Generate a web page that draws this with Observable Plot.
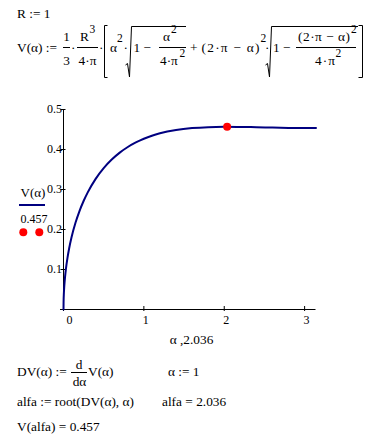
<!DOCTYPE html>
<html><head><meta charset="utf-8">
<script src="https://cdn.jsdelivr.net/npm/d3@7"></script>
<script src="https://cdn.jsdelivr.net/npm/@observablehq/plot@0.6"></script>
<style>
body{margin:0;background:#fff;}
#wrap{position:relative;width:379px;height:440px;overflow:hidden;background:#fff;}
#plot{position:absolute;left:0;top:95px;}
#over{position:absolute;left:0;top:0;pointer-events:none;}
#over text{font-family:"Liberation Serif","Times New Roman",serif;fill:#000;}
</style></head><body>
<div id="wrap"><div id="plot"></div><svg id="over" width="379" height="440"></svg></div>
<script>
// curve V(alpha)
const alpha = [0, 0.001, 0.005, 0.01, 0.02, 0.03, 0.05, 0.07, 0.1, 0.15, 0.2, 0.25, 0.3, 0.4, 0.5, 0.6, 0.7, 0.8, 0.9, 1.0, 1.1, 1.2, 1.4, 1.6, 1.8, 2.0, 2.2, 2.4, 2.6, 2.8, 3.0, 3.1416];
const V = [0, 0.0187, 0.0417, 0.0589, 0.0830, 0.1013, 0.1298, 0.1526, 0.1805, 0.2173, 0.2468, 0.2713, 0.2923, 0.3266, 0.3534, 0.3749, 0.3922, 0.4063, 0.4177, 0.4269, 0.4344, 0.4404, 0.4487, 0.4535, 0.4559, 0.4566, 0.4564, 0.4557, 0.4548, 0.4540, 0.4536, 0.4535];
// optimum point (second trace)
const optAlpha = [2.036];
const optV = [0.457];
// axes
const xTicks = [0, 1, 2, 3];
const yTicks = [0.1, 0.2, 0.3, 0.4, 0.5];
const xDomain = [0, Math.PI];
const yDomain = [0, 0.5];
const xLabel = "α ,2.036";
const legendLabels = ["V(α)", "0.457"];

const data = alpha.map((a, i) => ({a, v: V[i]}));
const opt = optAlpha.map((a, i) => ({a, v: optV[i]}));
const FF = "'Liberation Serif', 'Times New Roman', serif";

const chart = Plot.plot({
  width: 379, height: 250,
  marginLeft: 63, marginRight: 63.5, marginTop: 14, marginBottom: 36,
  x: {domain: xDomain, label: null},
  y: {domain: yDomain, label: null},
  style: {fontFamily: FF, fontSize: "12px", color: "#000", background: "transparent", overflow: "visible"},
  marks: [
    Plot.ruleX([xDomain[0]], {y1: yDomain[0], y2: yDomain[1], stroke: "#000"}),
    Plot.ruleY([yDomain[0]], {x1: xDomain[0], x2: xDomain[1], stroke: "#000", insetLeft: -3}),
    Plot.axisY({ticks: yTicks, tickSize: 5, dx: 2.5, tickFormat: () => ""}),
    Plot.axisY({ticks: yTicks, tickSize: 0, tickPadding: 1.5, tickFormat: d3.format(".1f"), fontFamily: FF, fontSize: 12}),
    Plot.axisX({ticks: xTicks, tickSize: 5, dy: -3, tickFormat: () => ""}),
    Plot.axisX({ticks: xTicks.slice(0, 1), tickSize: 0, tickPadding: 6, dx: 6, tickFormat: d3.format("d"), fontFamily: FF, fontSize: 12}),
    Plot.axisX({ticks: xTicks.slice(1), tickSize: 0, tickPadding: 6, dx: 2, tickFormat: d3.format("d"), fontFamily: FF, fontSize: 12}),
    Plot.line(data, {x: "a", y: "v", stroke: "#000080", strokeWidth: 2, curve: "monotone-x"}),
    Plot.dot(opt, {x: "a", y: "v", r: 4, fill: "#ff0000", stroke: "none"})
  ]
});
document.getElementById("plot").appendChild(chart);

// ---- overlay: worksheet text, legend ----
const svg = d3.select("#over");
function T(x, y, s, o = {}) {
  const t = svg.append("text").attr("x", x).attr("y", y).text(s)
    .style("font-size", (o.size || 13.33) + "px");
  if (o.anchor) t.attr("text-anchor", o.anchor);
  if (o.len) t.attr("textLength", o.len).attr("lengthAdjust", "spacing");
  return t;
}
function L(x1, y1, x2, y2, c = "#000", w = 1) {
  svg.append("line").attr("x1", x1).attr("y1", y1).attr("x2", x2).attr("y2", y2)
    .attr("stroke", c).attr("stroke-width", w);
}
function P(d) { svg.append("path").attr("d", d).attr("fill", "none").attr("stroke", "#000").attr("stroke-width", 1); }

// R := 1
T(17, 18, "R := 1");
// V(α) := ...
const B = 52, N = B - 11, D = B + 12.5, bar = B - 4.5;
T(17, B, "V(α) :=");
T(66.5, N, "1", {anchor: "middle"}); L(63, bar, 70, bar); T(66.5, D, "3", {anchor: "middle"});
T(71, B, "·");
T(80, N, "R"); T(89.5, N - 8, "3", {size: 11.5}); L(77, bar, 98, bar); T(87.5, D, "4·π", {anchor: "middle"});
T(99, B, "·");
P("M107.5,25.5 L104.5,25.5 L104.5,77.5 L107.5,77.5");
T(110, B, "α"); T(117, B - 10, "2", {size: 11.5});
T(123.5, B, "·");
P("M125.5,65 L127.5,63.5 L129.5,77 L131.5,26.5 L186,26.5");
T(133.5, B, "1 −");
T(163, N, "α"); T(171, N - 8, "2", {size: 11.5});
L(159, bar, 186, bar);
T(160, D, "4·π"); T(179.5, D - 8, "2", {size: 11.5});
T(190, B, "+");
T(201.5, B, "(2·π − α)", {len: 58});
T(260.5, B - 10, "2", {size: 11.5});
T(265, B, "·");
P("M265.5,65 L267.5,63.5 L269.5,77 L271.5,26.5 L358,26.5");
T(273, B, "1 −");
T(298, N, "(2·π − α)", {len: 52}); T(351, N - 8, "2", {size: 11.5});
L(296, bar, 356, bar);
T(315, D, "4·π", {len: 20}); T(335.5, D - 8, "2", {size: 11.5});
P("M358.5,25.5 L362.5,25.5 L362.5,77.5 L358.5,77.5");

// legend
T(20.5, 197, legendLabels[0], {size: 13});
L(19, 205, 45, 205, "#000080", 2);
T(20.5, 223, legendLabels[1], {size: 12});
svg.append("circle").attr("cx", 23.3).attr("cy", 232.3).attr("r", 4).attr("fill", "#ff0000");
svg.append("circle").attr("cx", 39.3).attr("cy", 232.3).attr("r", 4).attr("fill", "#ff0000");

// x-axis label
T(191.5, 344, xLabel, {anchor: "middle"});

// bottom worksheet lines
T(17, 376, "DV(α) :=");
T(79, 369, "d", {anchor: "middle"}); L(71, 372.5, 87, 372.5); T(79.5, 386, "dα", {anchor: "middle"});
T(88, 376, "V(α)");
T(168, 376, "α := 1");
T(17, 406, "alfa := root(DV(α), α)");
T(162, 406, "alfa = 2.036");
T(17, 431, "V(alfa) = 0.457");
</script>
</body></html>
